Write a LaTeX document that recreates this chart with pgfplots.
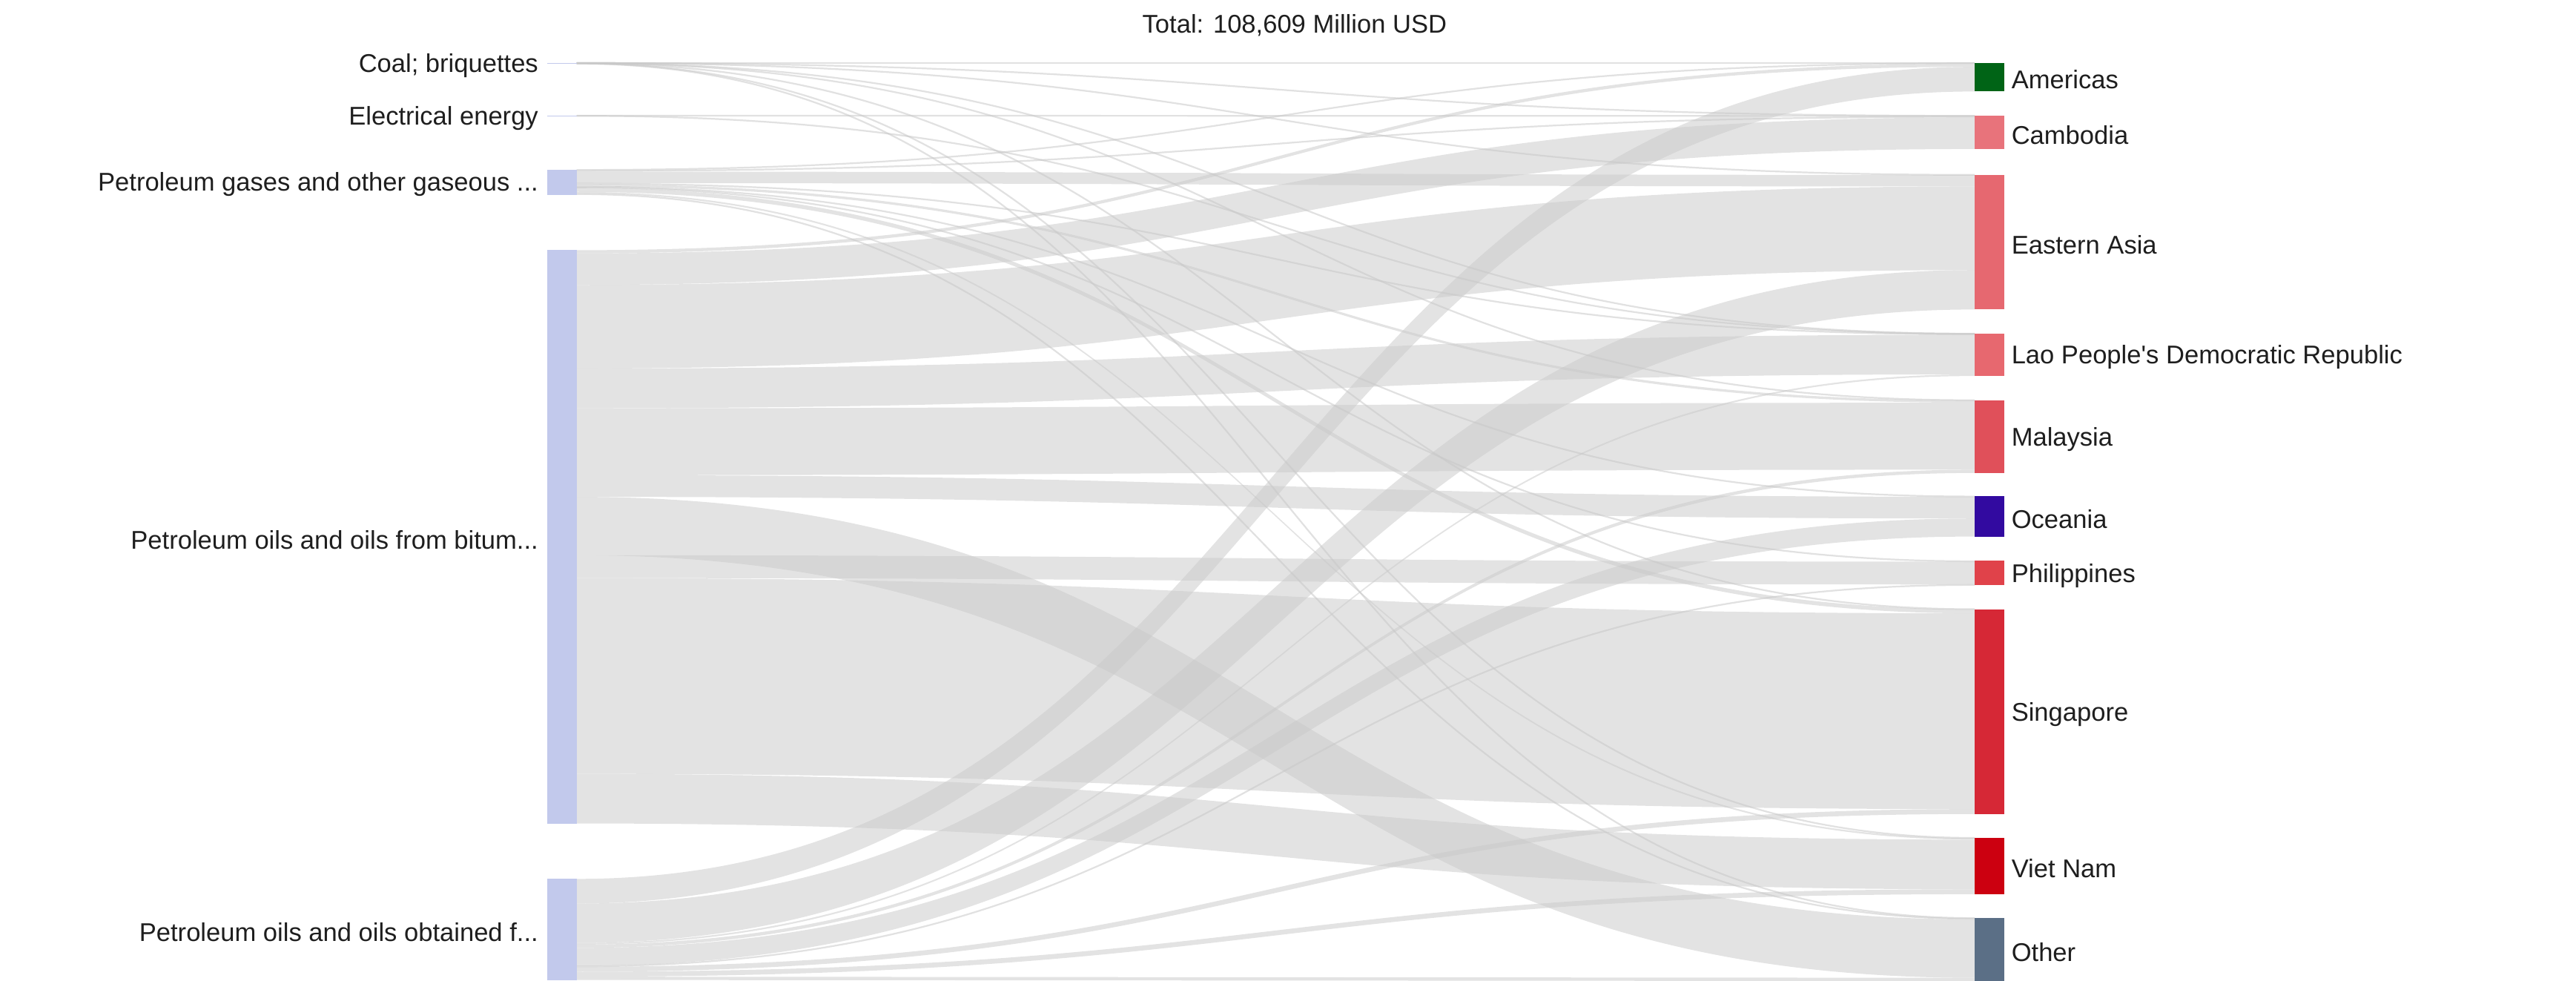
\documentclass[border=0pt]{standalone}
\usepackage{pgfplots}
\pgfplotsset{compat=1.18}
\usepackage{fontspec}
\setmainfont{Liberation Sans}
\definecolor{linkc}{RGB}{200,200,200}
\definecolor{srcc}{RGB}{194,201,236}
\definecolor{cAm}{RGB}{0,100,22}
\definecolor{cCa}{RGB}{232,115,123}
\definecolor{cEA}{RGB}{230,104,112}
\definecolor{cLa}{RGB}{231,104,111}
\definecolor{cMa}{RGB}{224,80,90}
\definecolor{cOc}{RGB}{50,10,160}
\definecolor{cPh}{RGB}{224,66,74}
\definecolor{cSi}{RGB}{214,40,54}
\definecolor{cVN}{RGB}{204,0,16}
\definecolor{cOt}{RGB}{91,111,134}
\definecolor{txt}{RGB}{30,30,30}

% px per million USD
\def\ky{0.0039278}
\def\xL{351}\def\xR{1202}\def\xM{776.5}
\newcommand\settop[2]{\expandafter\xdef\csname sk#1\endcsname{#2}\expandafter\xdef\csname top#1\endcsname{#2}}
\def\flowlist{}
\newcommand\flow[3]{%
  \edef\fw{\fpeval{round(#3*\ky,5)}}%
  \edef\fys{\csname sk#1\endcsname}%
  \edef\fyt{\csname sk#2\endcsname}%
  \edef\fysb{\fpeval{round(\fys+\fw,5)}}%
  \edef\fytb{\fpeval{round(\fyt+\fw,5)}}%
  \expandafter\xdef\csname sk#1\endcsname{\fysb}%
  \expandafter\xdef\csname sk#2\endcsname{\fytb}%
  \xdef\flowlist{\unexpanded\expandafter{\flowlist}\noexpand\sankeylink{\fys}{\fysb}{\fyt}{\fytb}{\fw}}%
}
\newcommand\sankeylink[5]{%
  \pgfmathtruncatemacro\thin{(#5<1)}%
  \ifnum\thin=1
    \pgfmathsetmacro\yca{(#1+#2)/2}%
    \pgfmathsetmacro\ycb{(#3+#4)/2}%
    \draw[linkc, opacity=0.55, line width=0.5pt] (axis cs:\xL,\yca) .. controls (axis cs:\xM,\yca) and (axis cs:\xM,\ycb) .. (axis cs:\xR,\ycb);
  \else
    \fill[linkc, opacity=0.5] (axis cs:\xL,#1) .. controls (axis cs:\xM,#1) and (axis cs:\xM,#3) .. (axis cs:\xR,#3) -- (axis cs:\xR,#4) .. controls (axis cs:\xM,#4) and (axis cs:\xM,#2) .. (axis cs:\xL,#2) -- cycle;
  \fi}
\newcommand\nodebar[4]{%
  \edef\tmp{\noexpand\addplot[fill=#4, draw=none] coordinates {(#1,\csname top#3\endcsname) (#2,\csname top#3\endcsname) (#2,\csname sk#3\endcsname) (#1,\csname sk#3\endcsname)} -- cycle;}\tmp}

\begin{document}
\begin{tikzpicture}
% node tops (px from top of picture)
\settop{sC}{38.2}\settop{sE}{70.3}\settop{sG}{103.2}\settop{sB}{152.3}\settop{sO}{535.0}
\settop{tAm}{38.2}\settop{tCa}{70.5}\settop{tEA}{106.4}\settop{tLa}{203.1}\settop{tMa}{243.6}
\settop{tOc}{302.1}\settop{tPh}{341.4}\settop{tSi}{370.8}\settop{tVN}{510.0}\settop{tOt}{558.8}
% flows (million USD), source by source, in stacking order
% Coal; briquettes
\flow{sC}{tAm}{13}\flow{sC}{tCa}{13}\flow{sC}{tEA}{25}\flow{sC}{tLa}{13}
\flow{sC}{tMa}{13}\flow{sC}{tSi}{13}\flow{sC}{tVN}{25}\flow{sC}{tOt}{38}
% Electrical energy
\flow{sE}{tCa}{38}\flow{sE}{tLa}{25}
% Petroleum gases
\flow{sG}{tAm}{127}\flow{sG}{tCa}{204}\flow{sG}{tEA}{1782}\flow{sG}{tLa}{127}
\flow{sG}{tMa}{382}\flow{sG}{tOc}{76}\flow{sG}{tPh}{127}\flow{sG}{tSi}{636}
\flow{sG}{tVN}{255}\flow{sG}{tOt}{178}
% Petroleum oils from bituminous minerals
\flow{sB}{tAm}{496}\flow{sB}{tCa}{4888}\flow{sB}{tEA}{12959}\flow{sB}{tLa}{6148}
\flow{sB}{tMa}{10375}\flow{sB}{tOc}{3361}\flow{sB}{tOt}{9051}\flow{sB}{tPh}{3539}
\flow{sB}{tSi}{30335}\flow{sB}{tVN}{7689}
% Petroleum oils obtained from ...
\flow{sO}{tAm}{3819}\flow{sO}{tEA}{6110}\flow{sO}{tLa}{255}\flow{sO}{tMa}{509}
\flow{sO}{tOc}{2801}\flow{sO}{tPh}{127}\flow{sO}{tSi}{764}\flow{sO}{tVN}{764}
\flow{sO}{tOt}{509}
\begin{axis}[
  width=784pt, height=298.5pt, scale only axis,
  xmin=0, xmax=1568, ymin=0, ymax=597, y dir=reverse,
  hide axis, clip=true,
  nodes={font=\fontsize{7.8}{9}\selectfont, text=txt},
]
\pgfplotsextra{\flowlist}
\nodebar{333}{351}{sC}{srcc}
\nodebar{333}{351}{sE}{srcc}
\nodebar{333}{351}{sG}{srcc}
\nodebar{333}{351}{sB}{srcc}
\nodebar{333}{351}{sO}{srcc}
\nodebar{1202}{1220}{tAm}{cAm}
\nodebar{1202}{1220}{tCa}{cCa}
\nodebar{1202}{1220}{tEA}{cEA}
\nodebar{1202}{1220}{tLa}{cLa}
\nodebar{1202}{1220}{tMa}{cMa}
\nodebar{1202}{1220}{tOc}{cOc}
\nodebar{1202}{1220}{tPh}{cPh}
\nodebar{1202}{1220}{tSi}{cSi}
\nodebar{1202}{1220}{tVN}{cVN}
\nodebar{1202}{1220}{tOt}{cOt}
\node[anchor=east, inner sep=0pt] at (axis cs:328,40) {Coal; briquettes};
\node[anchor=east, inner sep=0pt] at (axis cs:328,72.1) {Electrical energy};
\node[anchor=east, inner sep=0pt] at (axis cs:328,112.4) {Petroleum gases and other gaseous ...};
\node[anchor=east, inner sep=0pt] at (axis cs:328,328.5) {Petroleum oils and oils from bitum...};
\node[anchor=east, inner sep=0pt] at (axis cs:328,567.5) {Petroleum oils and oils obtained f...};
\node[anchor=west, inner sep=0pt] at (axis cs:1224,48.5) {Americas};
\node[anchor=west, inner sep=0pt] at (axis cs:1224,82.1) {Cambodia};
\node[anchor=west, inner sep=0pt] at (axis cs:1224,148.9) {Eastern Asia};
\node[anchor=west, inner sep=0pt] at (axis cs:1224,217.5) {Lao People\textquotesingle s Democratic Republic};
\node[anchor=west, inner sep=0pt] at (axis cs:1224,267.3) {Malaysia};
\node[anchor=west, inner sep=0pt] at (axis cs:1224,315.9) {Oceania};
\node[anchor=west, inner sep=0pt] at (axis cs:1224,350.4) {Philippines};
\node[anchor=west, inner sep=0pt] at (axis cs:1224,434.7) {Singapore};
\node[anchor=west, inner sep=0pt] at (axis cs:1224,528.7) {Viet Nam};
\node[anchor=west, inner sep=0pt] at (axis cs:1224,579.5) {Other};
\node[inner sep=0pt] at (axis cs:788,15.5) {Total: 108,609 Million USD};
\end{axis}
\pgfresetboundingbox
\path (current axis.south west) rectangle (current axis.north east);
\end{tikzpicture}
\end{document}
